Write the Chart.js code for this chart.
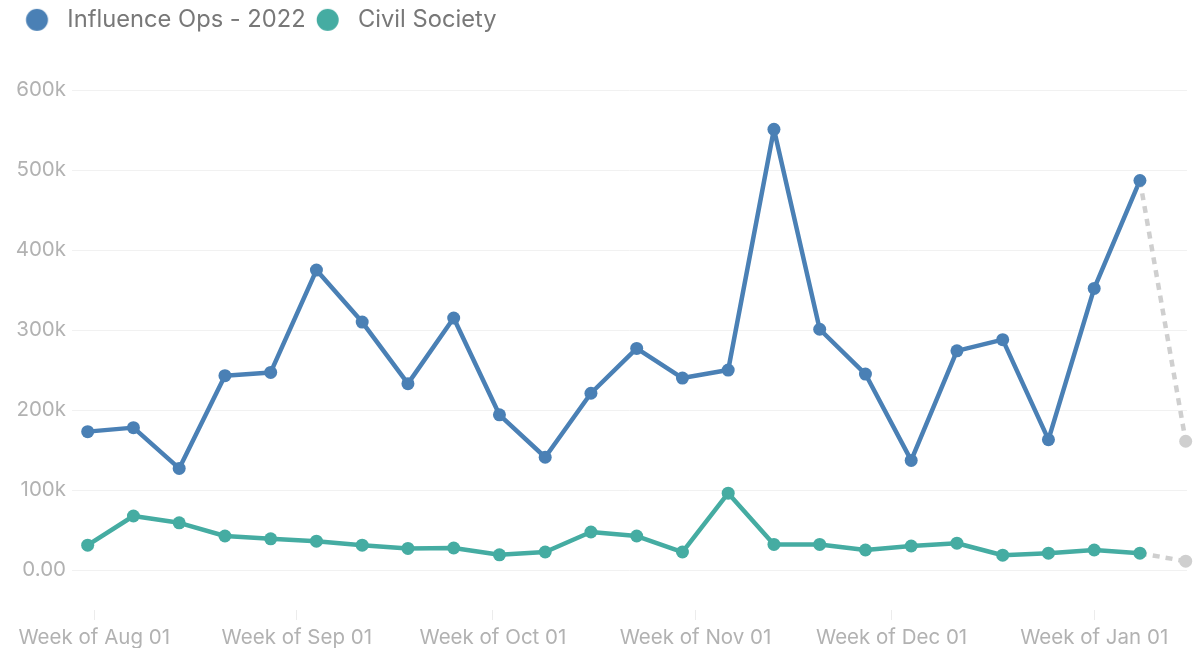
<!DOCTYPE html>
<html>
<head>
<meta charset="utf-8">
<script src="https://cdn.jsdelivr.net/npm/chart.js@4.4.0/dist/chart.umd.min.js"></script>
<style>
  html, body { margin: 0; padding: 0; background: #fff; }
  #wrap { width: 1197px; height: 648px; }
</style>
</head>
<body>
<div id="wrap"><canvas id="opsChart"></canvas></div>
<script>
// Weekly mention counts (weeks start on Sunday)
const weekStarts = [
    '2022-07-31', '2022-08-07', '2022-08-14', '2022-08-21', '2022-08-28',
    '2022-09-04', '2022-09-11', '2022-09-18', '2022-09-25',
    '2022-10-02', '2022-10-09', '2022-10-16', '2022-10-23', '2022-10-30',
    '2022-11-06', '2022-11-13', '2022-11-20', '2022-11-27',
    '2022-12-04', '2022-12-11', '2022-12-18', '2022-12-25',
    '2023-01-01', '2023-01-08', '2023-01-15'
];
const influenceOps = [
    173000, 178000, 127000, 243000, 247000,
    375000, 310000, 233000, 315000,
    194000, 141000, 221000, 277000, 240000,
    250000, 551000, 301000, 245000,
    137000, 274000, 288000, 163000,
    352000, 487000, 161000
];
const civilSociety = [
    31000, 67500, 59000, 42500, 39000,
    36000, 31000, 27000, 27500,
    19000, 22500, 47500, 42500, 22500,
    96000, 32000, 32000, 25000,
    30000, 33500, 18500, 21000,
    25000, 21000, 11000
];
const seriesNames = ['Influence Ops - 2022', 'Civil Society'];

// X axis ticks sit on the first of each month
const tickDates = ['2022-08-01', '2022-09-01', '2022-10-01', '2022-11-01', '2022-12-01', '2023-01-01'];
const tickLabels = ['Week of Aug 01', 'Week of Sep 01', 'Week of Oct 01', 'Week of Nov 01', 'Week of Dec 01', 'Week of Jan 01'];
const yTicks = [0, 100000, 200000, 300000, 400000, 500000, 600000];

const BLUE = '#4a80b5';
const TEAL = '#45aca2';
const PARTIAL = '#cfcfcf';   // current (incomplete) week
const FONT = 'Inter, "Noto Sans", sans-serif';

const lastIdx = weekStarts.length - 1;
const dayOf = d => (Date.parse(d) - Date.parse(weekStarts[0])) / 86400000;

function toPoints(values) {
    return weekStarts.map((w, i) => ({ x: dayOf(w), y: values[i] }));
}

// Round legend marker, nudged a little left inside its box
function legendDot(color) {
    const c = document.createElement('canvas');
    c.width = 30;
    c.height = 30;
    const g = c.getContext('2d');
    g.fillStyle = color;
    g.beginPath();
    g.arc(12.75, 15, 11, 0, Math.PI * 2);
    g.fill();
    return c;
}

function lineDataset(label, values, color) {
    return {
        label: label,
        data: toPoints(values),
        borderColor: color,
        backgroundColor: color,
        borderWidth: 4.5,
        borderJoinStyle: 'round',
        tension: 0,
        pointRadius: 6.5,
        pointBorderWidth: 0,
        pointBackgroundColor: values.map((v, i) => i === lastIdx ? PARTIAL : color),
        clip: false,
        segment: {
            borderColor: c => c.p1DataIndex === lastIdx ? PARTIAL : undefined,
            borderDash: c => c.p1DataIndex === lastIdx ? [7, 6] : undefined
        }
    };
}

const colors = [BLUE, TEAL];

new Chart(document.getElementById('opsChart'), {
    type: 'line',
    data: {
        datasets: [
            lineDataset(seriesNames[0], influenceOps, BLUE),
            lineDataset(seriesNames[1], civilSociety, TEAL)
        ]
    },
    options: {
        animation: false,
        responsive: true,
        maintainAspectRatio: false,
        layout: { padding: { left: 15, right: 10, top: 0, bottom: 0 } },
        plugins: {
            tooltip: { enabled: false },
            legend: {
                position: 'top',
                align: 'start',
                labels: {
                    usePointStyle: true,
                    pointStyleWidth: 32.5,
                    boxHeight: 23,
                    padding: 8,
                    color: '#787878',
                    font: { family: FONT, size: 23.7 },
                    generateLabels: chart =>
                        Chart.defaults.plugins.legend.labels.generateLabels(chart)
                            .map((item, i) => Object.assign(item, { pointStyle: legendDot(colors[i]) }))
                }
            }
        },
        scales: {
            x: {
                type: 'linear',
                min: -2.4,
                max: 168.2,
                afterBuildTicks: s => { s.ticks = tickDates.map(d => ({ value: dayOf(d) })); },
                afterFit: s => { s.height = 38; },
                ticks: {
                    callback: (v, i) => tickLabels[i],
                    autoSkip: false,
                    maxRotation: 0,
                    padding: 6,
                    color: '#b2b2b2',
                    font: { family: FONT, size: 20.5 }
                },
                grid: { drawOnChartArea: false, drawTicks: true, tickLength: 10, color: '#ececec' },
                border: { display: false }
            },
            y: {
                min: -50000,
                max: 660500,
                afterBuildTicks: s => { s.ticks = yTicks.map(v => ({ value: v })); },
                afterFit: s => { s.width = 57; },
                ticks: {
                    callback: v => v === 0 ? '0.00' : (v / 1000) + 'k',
                    padding: 6,
                    color: '#b2b2b2',
                    font: { family: FONT, size: 20.5 }
                },
                grid: { color: '#f1f1f1', drawTicks: false },
                border: { display: false }
            }
        }
    }
});
</script>
</body>
</html>
